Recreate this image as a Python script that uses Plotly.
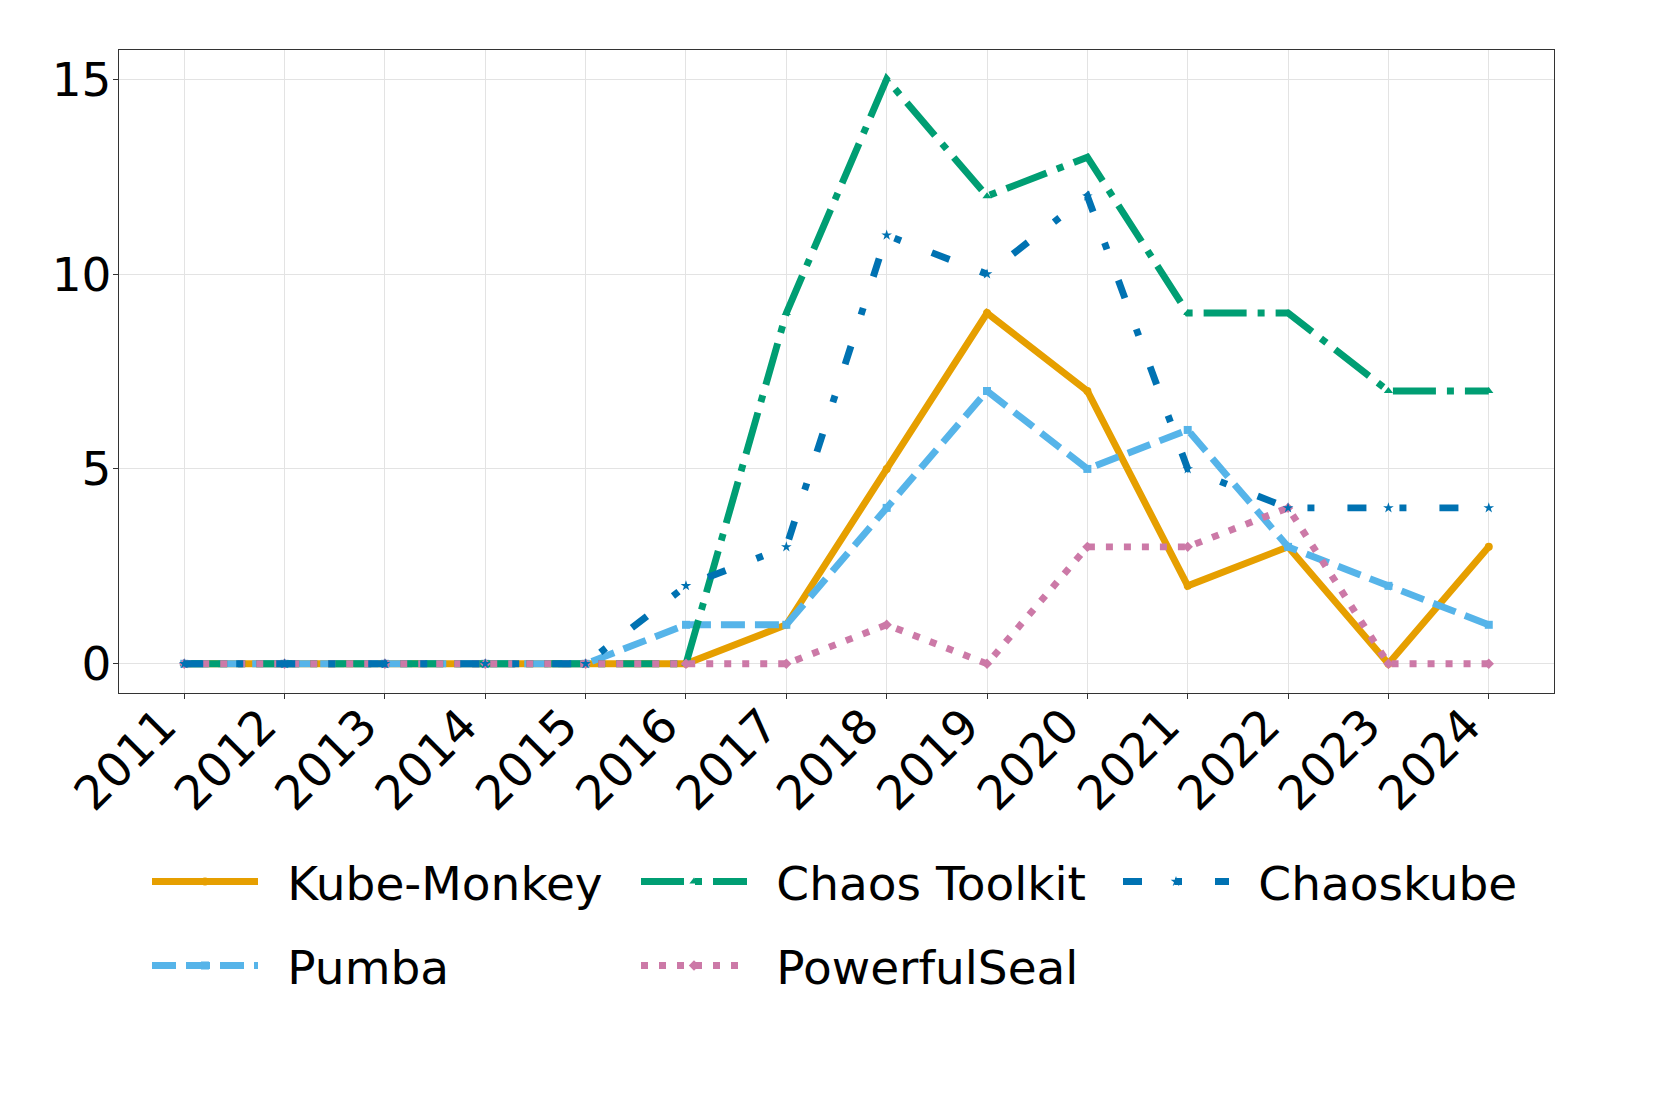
import plotly.graph_objects as go

years = [2011, 2012, 2013, 2014, 2015, 2016, 2017, 2018, 2019, 2020, 2021, 2022, 2023, 2024]
tick_labels = [str(y) for y in years]

kube_monkey = [0, 0, 0, 0, 0, 0, 1, 5, 9, 7, 2, 3, 0, 3]
pumba = [0, 0, 0, 0, 0, 1, 1, 4, 7, 5, 6, 3, 2, 1]
chaos_toolkit = [0, 0, 0, 0, 0, 0, 9, 15, 12, 13, 9, 9, 7, 7]
powerfulseal = [0, 0, 0, 0, 0, 0, 0, 1, 0, 3, 3, 4, 0, 0]
chaoskube = [0, 0, 0, 0, 0, 2, 3, 11, 10, 12, 5, 4, 4, 4]

LW = 6.9
FONT = "DejaVu Sans"
FS = 47
OFF = 8  # default page body margin of the html page

# (name, values, color, dash, symbol, legend id, column x (page px), row y (page px)) in drawing order
series = [
    ("Kube-Monkey", kube_monkey, "#E69F00", "solid", "circle", "legend", 153, 882),
    ("Pumba", pumba, "#56B4E9", "24px,10px", "square", "legend2", 153, 966),
    ("Chaos Toolkit", chaos_toolkit, "#009E73", "43px,11px,7px,11px", "triangle-up", "legend3", 642, 882),
    ("PowerfulSeal", powerfulseal, "#CC79A7", "7px,11px", "diamond", "legend4", 642, 966),
    ("Chaoskube", chaoskube, "#0072B2", "19px,33px,7px,33px", "star", "legend5", 1124, 882),
]

W, H = 1661, 1107
fig = go.Figure()
legends = {}
for name, vals, color, dash, sym, leg, lx, ly in series:
    fig.add_trace(go.Scatter(
        x=years, y=vals, name="\u00a0\u2009" + name, mode="lines+markers",
        line=dict(color=color, width=LW, dash=dash),
        marker=dict(symbol=sym, size=8, color=color),
        legend=leg, showlegend=True,
    ))
    legends[leg] = dict(
        orientation="h", xref="container", yref="container",
        x=(lx - 6 - OFF) / W, y=(H - (ly - OFF)) / H,
        xanchor="left", yanchor="middle", itemwidth=106,
        font=dict(family=FONT, size=FS, color="black"),
        bgcolor="rgba(0,0,0,0)", borderwidth=0, visible=True,
    )

axis_common = dict(
    showline=True, mirror=True, linecolor="#333333", linewidth=1.3,
    showgrid=True, gridcolor="#e3e3e3", gridwidth=1,
    ticks="outside", ticklen=5, tickcolor="#333333", tickwidth=1.3,
    zeroline=False, automargin=False,
    tickfont=dict(family=FONT, size=FS, color="black"),
)

fig.update_layout(
    width=W, height=H, showlegend=True,
    margin=dict(l=119 - OFF, r=107 + OFF, t=50 - OFF, b=414 + OFF),
    paper_bgcolor="white", plot_bgcolor="white",
    font=dict(family=FONT, size=FS, color="black"),
    xaxis=dict(range=[2010.35, 2024.65], tickmode="array", tickvals=years,
               ticktext=tick_labels, tickangle=-45, ticklabelshift=-22,
               ticklabelstandoff=-20, **axis_common),
    yaxis=dict(range=[-0.75, 15.75], tickmode="array", tickvals=[0, 5, 10, 15],
               ticktext=["0", "5", "10", "15"], ticklabelstandoff=-8,
               **axis_common),
    **legends,
)

fig.write_html("out.html")
